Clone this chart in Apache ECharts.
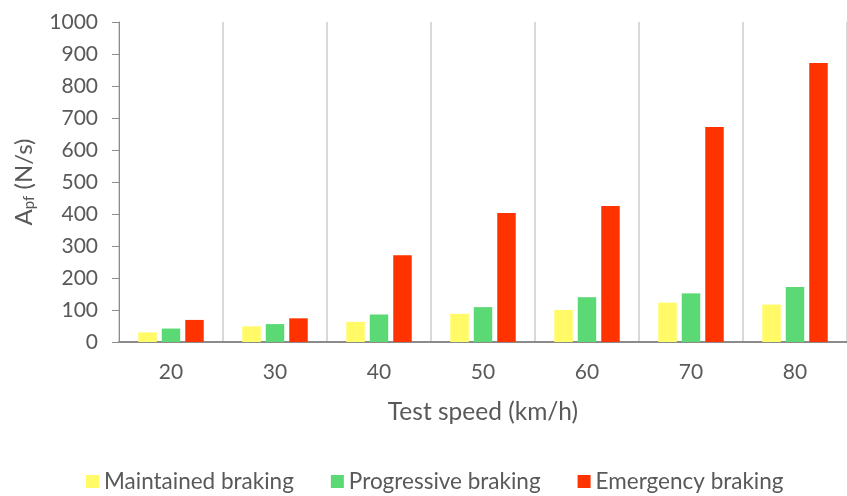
<!DOCTYPE html>
<html><head><meta charset="utf-8">
<script src="https://cdn.jsdelivr.net/npm/echarts@6/dist/echarts.min.js"></script>
<style>html,body{margin:0;padding:0;background:#fff}#c{width:847px;height:496px}</style>
</head><body><div id="c"></div>
<script>
const categories = ['20','30','40','50','60','70','80'];
const maintained = [30, 49, 63, 88, 100, 123, 117];
const progressive = [42, 56, 86, 109, 140, 152, 172];
const emergency = [69, 74, 271, 403, 425, 672, 872];
const seriesNames = ['Maintained braking','Progressive braking','Emergency braking'];
const colors = ['#FFFA66','#5BD974','#FF3300'];
const FONT = 'Lato, "Open Sans", sans-serif';
const chart = echarts.init(document.getElementById('c'));
const mk = (name, data, color) => ({
  name, type:'bar', data, barWidth:18.5, barGap:'27%',
  itemStyle:{color}
});
chart.setOption({
  animation:false,
  textStyle:{fontFamily:FONT},
  grid:{left:119, top:22, bottom:154, right:-6},
  legend:{
    data:seriesNames, top:465, left:81, icon:'rect', itemWidth:13, itemHeight:13, itemGap:37,
    textStyle:{fontSize:22.5, color:'#595959', fontFamily:FONT}
  },
  xAxis:{
    type:'category', data:categories,
    name:'Test speed (km/h)', nameLocation:'middle', nameGap:58,
    nameTextStyle:{fontSize:24.5, color:'#595959', fontFamily:FONT},
    axisLine:{lineStyle:{color:'#8c8c8c', width:2}},
    axisTick:{show:false},
    axisLabel:{fontSize:21, color:'#595959', margin:20, fontFamily:FONT},
    splitLine:{show:true, lineStyle:{color:'#d9d9d9', width:2}}
  },
  yAxis:{
    type:'value', min:0, max:1000, interval:100,
    name:'{a|A}{s|pf}{a| (N/s)}', nameLocation:'middle', nameGap:82, nameRotate:90,
    nameTextStyle:{rich:{
      a:{fontSize:24, color:'#595959', fontFamily:FONT},
      s:{fontSize:15, color:'#595959', fontFamily:FONT, verticalAlign:'bottom', padding:[10,0,0,0]}
    }},
    axisLine:{show:true, lineStyle:{color:'#8c8c8c', width:1}},
    axisTick:{show:true, length:7, lineStyle:{color:'#8c8c8c'}},
    axisLabel:{fontSize:21, color:'#595959', margin:21, fontFamily:FONT, formatter:v => String(v)},
    splitLine:{show:false}
  },
  series:[
    mk(seriesNames[0], maintained, colors[0]),
    mk(seriesNames[1], progressive, colors[1]),
    mk(seriesNames[2], emergency, colors[2])
  ]
});
</script></body></html>
